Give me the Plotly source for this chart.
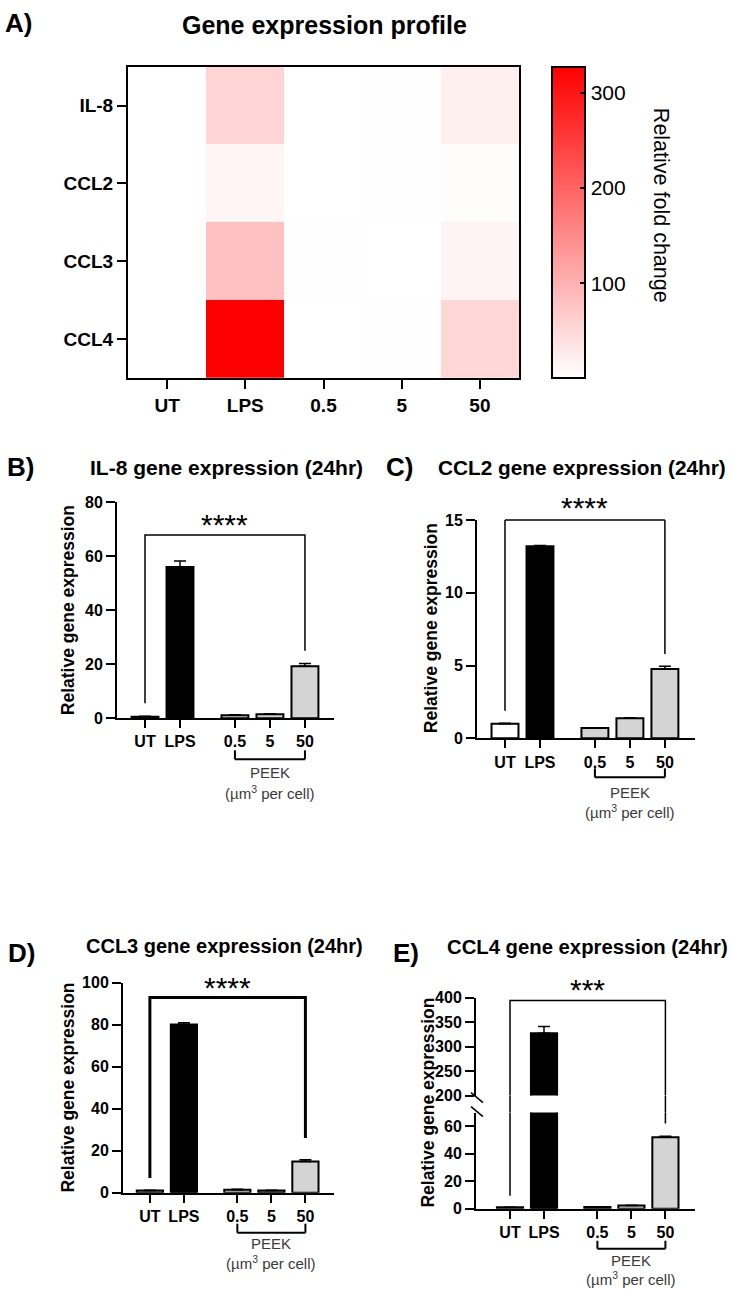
import plotly.graph_objects as go

W, H = 733, 1289
FONT = "Liberation Sans, Arial, sans-serif"
# vertical calibration of the captured page (observed offset / scale)
Y_OFF, Y_SCALE = 8.3, 0.986

# ---------------- data ----------------
groups = ["UT", "LPS", "0.5", "5", "50"]
genes = ["IL-8", "CCL2", "CCL3", "CCL4"]
positions = [0, 1, 2.57, 3.57, 4.57]
bar_colors = ["#ffffff", "#000000", "#d4d4d4", "#d4d4d4", "#d4d4d4"]

il8_mean = [0.6, 56.0, 1.1, 1.5, 19.3]
il8_err = [0.2, 2.2, 0.2, 0.2, 1.0]
ccl2_mean = [1.0, 13.2, 0.7, 1.38, 4.76]
ccl2_err = [0.03, 0.05, 0.03, 0.03, 0.2]
ccl3_mean = [1.0, 80.0, 1.4, 1.0, 14.8]
ccl3_err = [0.1, 0.8, 0.2, 0.2, 0.9]
ccl4_mean = [1.0, 327.0, 1.2, 2.3, 52.0]
ccl4_err = [0.1, 14.0, 0.2, 0.2, 0.7]

heat_z = [il8_mean, ccl2_mean, ccl3_mean, ccl4_mean]
colorbar_ticks = [100, 200, 300]

# significance brackets: (left foot, top, right foot, label, label y)
sig_B = (5.6, 67.8, 25.0, "****", 72.6)
sig_C = (1.9, 15.0, 5.8, "****")
sig_D = (7.0, 92.9, 26.0, "****", 98.6)
sig_E_low = (9.5, 62.0)
sig_E_top = 394.0
sig_E_label = "***"


def px(v):
    return v / W


def py(v):
    return 1 - ((v - Y_OFF) / Y_SCALE) / H


def bold(size):
    return dict(family=FONT, size=size, color="black", weight="bold")


def ann(**kw):
    d = dict(showarrow=False, xanchor="center", yanchor="middle")
    d.update(kw)
    return d


fig = go.Figure()
annotations = []
shapes = []

# ---------------- A) heatmap ----------------
fig.add_trace(go.Heatmap(
    z=heat_z, x=groups, y=genes, xaxis="x", yaxis="y",
    colorscale=[[0, "#ffffff"], [1, "#ff0000"]],
    hoverinfo="skip",
    colorbar=dict(
        x=px(552), xanchor="left", xpad=0, ypad=0,
        y=py((67 + 378) / 2), yanchor="middle",
        len=py(67) - py(378), lenmode="fraction", thickness=33,
        outlinewidth=2, outlinecolor="black",
        tickvals=colorbar_ticks, ticks="inside", ticklen=6, tickwidth=2,
        tickcolor="black",
        tickfont=dict(family=FONT, size=21, color="black"),
    ),
))

axis_common = dict(showgrid=False, zeroline=False, showline=True,
                   linecolor="black", linewidth=2, ticks="outside",
                   tickwidth=2, tickcolor="black")

layout = dict(
    width=W, height=H, margin=dict(l=0, r=0, t=0, b=0),
    paper_bgcolor="white", plot_bgcolor="white", showlegend=False,
    xaxis=dict(domain=[px(128), px(519)], anchor="y", type="category",
               mirror=True, ticklen=9, tickfont=bold(19), **axis_common),
    yaxis=dict(domain=[py(378), py(67)], anchor="x", type="category",
               autorange="reversed", mirror=True, ticklen=9,
               tickfont=bold(19), **axis_common),
)

annotations.append(ann(text="A)", x=px(18), y=py(23), xref="paper", yref="paper",
                       font=bold(26)))
annotations.append(ann(text="Gene expression profile", x=px(324), y=py(25),
                       xref="paper", yref="paper", font=bold(25)))
annotations.append(ann(text="Relative fold change", x=px(661), y=py(205),
                       xref="paper", yref="paper", textangle=90,
                       font=dict(family=FONT, size=21.5, color="black")))

# ---------------- bar panels ----------------
panels = [
    dict(n=2, mean=il8_mean, err=il8_err, xd=(117, 334), yd=(718, 502),
         yr=(0, 80), yt=[0, 20, 40, 60, 80], xr=(-0.8, 5.4),
         letter="B)", lx=20, ly=467, title="IL-8 gene expression (24hr)",
         tx=226, ty=467, tsize=21, ytx=68, yty=610,
         peek=(759, 750, 772, 792)),
    dict(n=3, mean=ccl2_mean, err=ccl2_err, xd=(477, 695), yd=(738, 520),
         yr=(0, 15), yt=[0, 5, 10, 15], xr=(-0.8, 5.43),
         letter="C)", lx=399, ly=467, title="CCL2 gene expression (24hr)",
         tx=582, ty=467, tsize=20.8, ytx=431, yty=628,
         peek=(777, 768, 792, 811)),
    dict(n=4, mean=ccl3_mean, err=ccl3_err, xd=(123, 334), yd=(1192, 982),
         yr=(0, 100), yt=[0, 20, 40, 60, 80, 100], xr=(-0.79, 5.41),
         letter="D)", lx=21, ly=953, title="CCL3 gene expression (24hr)",
         tx=225, ty=946, tsize=20, ytx=68, yty=1087,
         peek=(1232, 1223, 1243, 1262)),
    dict(n=5, mean=ccl4_mean, err=ccl4_err, xd=(476, 695), yd=(1208, 1112),
         yr=(0, 70), yt=[0, 20, 40, 60], xr=(-1.0, 5.44),
         letter="E)", lx=406, ly=953, title="CCL4 gene expression (24hr)",
         tx=587, ty=947, tsize=20.3, ytx=428, yty=1102,
         peek=(1248, 1240, 1260, 1278)),
]

for p in panels:
    n = p["n"]
    xa, ya = f"x{n}", f"y{n}"
    fig.add_trace(go.Bar(
        x=positions, y=p["mean"], width=0.77, xaxis=xa, yaxis=ya,
        marker=dict(color=bar_colors, line=dict(color="black", width=2)),
        error_y=dict(type="data", symmetric=False, array=p["err"],
                     arrayminus=[0] * 5, color="black", thickness=1.5, width=6),
        hoverinfo="skip",
    ))
    layout[f"xaxis{n}"] = dict(
        domain=[px(p["xd"][0]), px(p["xd"][1])], anchor=ya, range=list(p["xr"]),
        tickvals=positions, ticktext=groups, ticklen=8, tickfont=bold(16),
        **axis_common)
    layout[f"yaxis{n}"] = dict(
        domain=[py(p["yd"][0]), py(p["yd"][1])], anchor=xa, range=list(p["yr"]),
        tickvals=p["yt"], ticklen=9, tickfont=bold(16), **axis_common)

    annotations.append(ann(text=p["letter"], x=px(p["lx"]), y=py(p["ly"]),
                           xref="paper", yref="paper", font=bold(26)))
    annotations.append(ann(text=p["title"], x=px(p["tx"]), y=py(p["ty"]),
                           xref="paper", yref="paper", font=bold(p["tsize"])))
    annotations.append(ann(text="Relative gene expression", x=px(p["ytx"]),
                           y=py(p["yty"]), xref="paper", yref="paper",
                           textangle=-90, font=bold(17.5)))

    # PEEK bracket under the three PEEK groups
    yh, yv, yt1, yt2 = p["peek"]
    x0, x1 = positions[2], positions[4]
    for (sx0, sy0, sx1, sy1) in [(x0, yv, x0, yh), (x0, yh, x1, yh), (x1, yh, x1, yv)]:
        shapes.append(dict(type="line", xref=xa, yref="paper", x0=sx0, x1=sx1,
                           y0=py(sy0), y1=py(sy1), line=dict(color="black", width=2)))
    annotations.append(ann(text="PEEK", x=positions[3], y=py(yt1), xref=xa,
                           yref="paper",
                           font=dict(family=FONT, size=15, color="#3a3a3a")))
    annotations.append(ann(text="(µm<sup>3</sup> per cell)", x=positions[3], y=py(yt2),
                           xref=xa, yref="paper",
                           font=dict(family=FONT, size=15, color="#3a3a3a")))

STAR_FONT = dict(family=FONT, size=30, color="black")
mid_x = (positions[0] + positions[4]) / 2

# --- significance brackets B, D (data coords) ---
for n, sig, lw in [(2, sig_B, 1.5), (4, sig_D, 3)]:
    lf, top, rf, lab, laby = sig
    fig.add_trace(go.Scatter(x=[positions[0], positions[0], positions[4], positions[4]],
                             y=[lf, top, top, rf], mode="lines", xaxis=f"x{n}",
                             yaxis=f"y{n}", line=dict(color="black", width=lw),
                             hoverinfo="skip"))
    annotations.append(ann(text=lab, x=mid_x, y=laby, xref=f"x{n}", yref=f"y{n}",
                           yshift=-2, font=STAR_FONT))

# --- C bracket (top line sits on the axis top) ---
lf, top, rf, lab = sig_C
for xx, foot in [(positions[0], lf), (positions[4], rf)]:
    fig.add_trace(go.Scatter(x=[xx, xx], y=[foot, top], mode="lines", xaxis="x3",
                             yaxis="y3", line=dict(color="black", width=1.5),
                             hoverinfo="skip"))
shapes.append(dict(type="line", xref="x3", yref="paper", x0=positions[0], x1=positions[4],
                   y0=layout["yaxis3"]["domain"][1], y1=layout["yaxis3"]["domain"][1],
                   line=dict(color="black", width=1.5)))
annotations.append(ann(text=lab, x=mid_x, y=py(507), xref="x3", yref="paper",
                       font=STAR_FONT))

# ---------------- E) upper (broken) segment ----------------
E_up = (1095, 997)
fig.add_trace(go.Bar(
    x=positions, y=ccl4_mean, width=0.77, xaxis="x5", yaxis="y6",
    marker=dict(color=bar_colors, line=dict(color="black", width=2)),
    error_y=dict(type="data", symmetric=False, array=ccl4_err,
                 arrayminus=[0] * 5, color="black", thickness=1.5, width=6),
    hoverinfo="skip",
))
layout["yaxis6"] = dict(domain=[py(E_up[0]), py(E_up[1])], anchor="x5", range=[200, 400],
                        tickvals=[200, 250, 300, 350, 400], ticklen=9, tickfont=bold(16),
                        **axis_common)

fig.add_trace(go.Scatter(x=[positions[0], positions[0], positions[4], positions[4]],
                         y=[200, sig_E_top, sig_E_top, 200], mode="lines", xaxis="x5",
                         yaxis="y6", line=dict(color="black", width=1.5), hoverinfo="skip"))
for xx, foot in [(positions[0], sig_E_low[0]), (positions[4], sig_E_low[1])]:
    fig.add_trace(go.Scatter(x=[xx, xx], y=[foot, 70], mode="lines", xaxis="x5",
                             yaxis="y5", line=dict(color="black", width=1.5),
                             hoverinfo="skip"))
    shapes.append(dict(type="line", xref="x5", yref="paper", x0=xx, x1=xx,
                       y0=layout["yaxis5"]["domain"][1], y1=layout["yaxis6"]["domain"][0],
                       line=dict(color="black", width=1.5)))
annotations.append(ann(text=sig_E_label, x=mid_x, y=py(989), xref="x5", yref="paper",
                       font=STAR_FONT))

# axis break marks
ax_x = 476
for yc in (1097, 1111):
    shapes.append(dict(type="line", xref="paper", yref="paper",
                       x0=px(ax_x - 5), x1=px(ax_x + 7), y0=py(yc - 5), y1=py(yc + 5),
                       line=dict(color="black", width=1.5)))

layout["annotations"] = annotations
layout["shapes"] = shapes
fig.update_layout(**layout)

fig.write_html("out.html",
               config={"displayModeBar": False},
               post_script="document.body.style.margin='0px';"
                           "document.body.style.overflow='hidden';")
